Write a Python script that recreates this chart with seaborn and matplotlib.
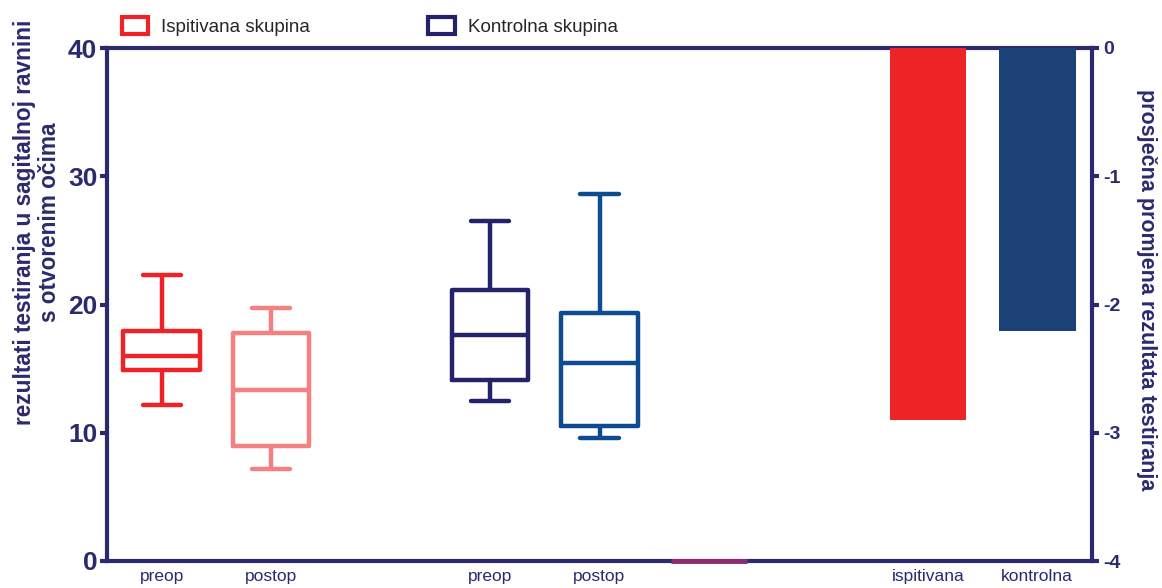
import numpy as np
import pandas as pd
import matplotlib
matplotlib.use("Agg")
import matplotlib.pyplot as plt
from matplotlib.patches import Patch
import seaborn as sns

# ---- data ----
slots = ["isp_pre", "isp_post", "gap1", "kon_pre", "kon_post", "mag", "gap2", "isp_bar", "kon_bar"]
slot_labels = ["preop", "postop", "", "preop", "postop", "", "", "ispitivana", "kontrolna"]

# five-number summaries: min, Q1, median, Q3, max
isp_pre = [12.2, 14.9, 16.0, 17.9, 22.3]
isp_post = [7.2, 9.0, 13.3, 17.8, 19.7]
kon_pre = [12.5, 14.1, 17.6, 21.1, 26.5]
kon_post = [9.6, 10.5, 15.4, 19.3, 28.6]

bar_keys = ["isp_bar", "kon_bar"]
bar_values = [-2.9, -2.21]

mag_keys = ["mag"]
mag_values = [0]

legend_labels = ["Ispitivana skupina", "Kontrolna skupina"]
left_label = "rezultati testiranja u sagitalnoj ravnini\ns otvorenim očima"
right_label = "prosječna promjena rezultata testiranja"

# ---- styles ----
NAVY = "#2B2A6E"
box_colors = {"isp_pre": "#EE2227", "isp_post": "#F4817F",
              "kon_pre": "#24236A", "kon_post": "#0E4C92"}
bar_colors = {"isp_bar": "#EE2326", "kon_bar": "#1B4177"}

sns.set_theme(style="white")
plt.rcParams["font.family"] = ["Liberation Sans", "DejaVu Sans"]
plt.rcParams["axes.unicode_minus"] = False

box_df = pd.DataFrame({
    "slot": np.repeat(["isp_pre", "isp_post", "kon_pre", "kon_post"], 5),
    "val": isp_pre + isp_post + kon_pre + kon_post,
})
bar_df = pd.DataFrame({"slot": bar_keys, "val": bar_values})
mag_df = pd.DataFrame({"slot": mag_keys, "val": mag_values})

W, H = 1162, 588
fig = plt.figure(figsize=(W / 100, H / 100), dpi=100)
ax = fig.add_axes([107 / W, 27 / H, 985 / W, 513 / H])
ax2 = ax.twinx()

sns.boxplot(data=box_df, x="slot", y="val", order=slots, hue="slot",
            palette=box_colors, fill=False, width=0.7, whis=(0, 100),
            linewidth=3.2, showfliers=False, legend=False, ax=ax)

sns.barplot(data=mag_df, x="slot", y="val", order=slots, color="white",
            edgecolor="#8A2C72", linewidth=3.5, width=0.7, ax=ax)
for p in ax.patches:
    p.set_clip_on(False)
    p.set_zorder(5)

sns.barplot(data=bar_df, x="slot", y="val", order=slots, hue="slot",
            palette=bar_colors, width=0.7, saturation=1, legend=False,
            linewidth=0, ax=ax2)

ax.set_xlim(-0.5, 8.5)
ax2.set_xlim(-0.5, 8.5)
ax.set_ylim(0, 40)
ax2.set_ylim(-4, 0)

ax.set_yticks([0, 10, 20, 30, 40])
ax2.set_yticks([0, -1, -2, -3, -4])
ax2.set_yticklabels(["0", "-1", "-2", "-3", "-4"])
ax.set_xticks(range(len(slots)))
ax.set_xticklabels(slot_labels)

for a in (ax, ax2):
    for s in a.spines.values():
        s.set_color(NAVY)
        s.set_linewidth(3)
for s in ["left", "top", "bottom"]:
    ax2.spines[s].set_visible(False)
ax.spines["right"].set_visible(False)

ax.tick_params(axis="y", left=True, length=5, width=3, color=NAVY, pad=2,
               labelsize=19, labelcolor=NAVY)
for t in ax.get_yticklabels():
    t.set_fontweight("bold")
ax.tick_params(axis="x", bottom=False, length=0, pad=6, labelsize=12.5, labelcolor=NAVY)
ax2.tick_params(axis="y", right=True, length=5, width=3, color=NAVY, pad=3,
                labelsize=14, labelcolor=NAVY)
for t in ax2.get_yticklabels():
    t.set_fontweight("bold")

ax.set_xlabel("")
ax2.set_xlabel("")
ax.set_ylabel("")
ax2.set_ylabel("")

fig.text(37 / W, 1 - 222 / H, left_label, rotation=90, ha="center", va="center",
         multialignment="center", fontsize=16.3, fontweight="bold", color=NAVY,
         linespacing=1.1)
fig.text(1147 / W, 1 - 290 / H, right_label, rotation=270, ha="center", va="center",
         fontsize=15.5, fontweight="bold", color=NAVY)

handles = [Patch(facecolor="white", edgecolor="#EE2227", linewidth=3),
           Patch(facecolor="white", edgecolor="#24236A", linewidth=3)]
fig.legend(handles, legend_labels, ncol=2, loc="upper left",
           bbox_to_anchor=(105 / W, 1.0), frameon=False, fontsize=13.5,
           handlelength=1.4, handleheight=1.0, handletextpad=0.7,
           columnspacing=6.3)

fig.savefig("out.png", dpi=100)
